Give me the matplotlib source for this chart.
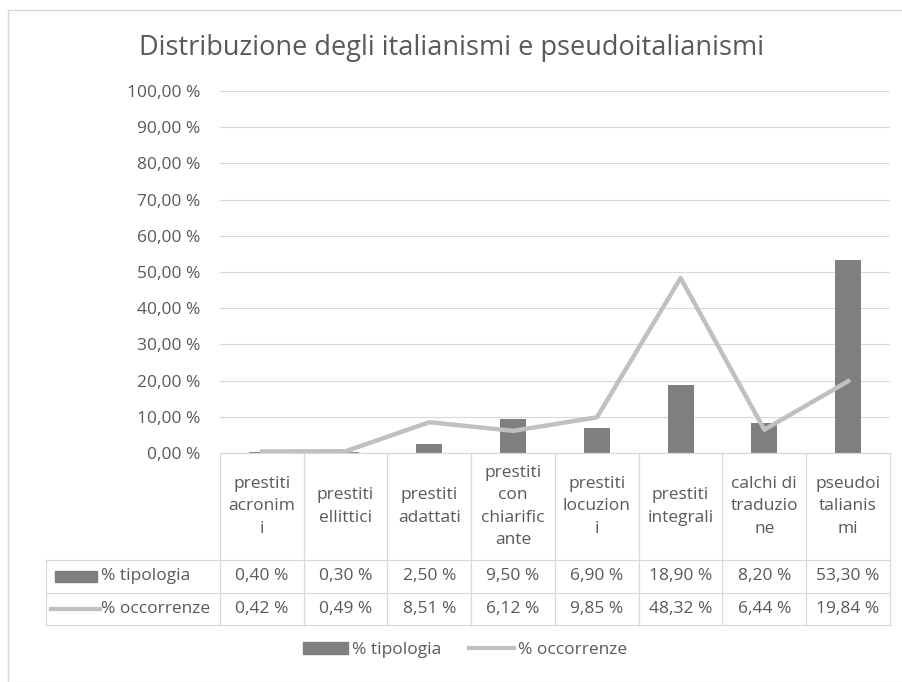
import matplotlib.pyplot as plt
from matplotlib.patches import Rectangle
from matplotlib.lines import Line2D

plt.rcParams['font.family'] = ['Open Sans', 'DejaVu Sans']

categories = ['prestiti\nacronim\ni', 'prestiti\nellittici', 'prestiti\nadattati',
              'prestiti\ncon\nchiarific\nante', 'prestiti\nlocuzion\ni', 'prestiti\nintegrali',
              'calchi di\ntraduzio\nne', 'pseudoi\ntalianis\nmi']
tipologia = [0.40, 0.30, 2.50, 9.50, 6.90, 18.90, 8.20, 53.30]
occorrenze = [0.42, 0.49, 8.51, 6.12, 9.85, 48.32, 6.44, 19.84]
yticks = list(range(0, 101, 10))

def pct(v):
    return f'{v:.2f} %'.replace('.', ',')

bar_col = '#7f7f7f'
line_col = '#c0c0c0'
txt_col = '#595959'
grid_col = '#d9d9d9'
fs = 12.5

fig = plt.figure(figsize=(9.03, 6.82), dpi=100)
ax = fig.add_axes([220 / 903, 1 - 453 / 682, 670 / 903, 362 / 682])

x = list(range(len(categories)))
ax.bar(x, tipologia, width=0.31, color=bar_col, zorder=2)
ax.plot(x, occorrenze, color=line_col, lw=3.2, zorder=3, solid_joinstyle='round')

ax.set_xlim(-0.5, len(categories) - 0.5)
ax.set_ylim(0, 100)
ax.set_yticks(yticks)
ax.set_yticklabels([pct(v) for v in yticks], fontsize=fs, color=txt_col)
ax.tick_params(axis='y', length=0, pad=14)
ax.set_xticks([])
ax.grid(axis='y', color=grid_col, lw=0.8)
ax.set_axisbelow(True)
for s in ax.spines.values():
    s.set_visible(False)

fig.text(0.5, 1 - 48 / 682, 'Distribuzione degli italianismi e pseudoitalianismi',
         ha='center', va='center', fontsize=19.5, color=txt_col)

# data table below the plot
px = len(categories) / 670          # data units per pixel
rows_y = [0, -107 / 362, -140 / 362, -172 / 362]
left = -0.5 - 174 * px
bt = ax.get_xaxis_transform()
lkw = dict(color=grid_col, lw=0.9, transform=bt, clip_on=False)
ax.add_line(Line2D([-0.5, 7.5], [0, 0], **lkw))
for ry in rows_y[1:]:
    ax.add_line(Line2D([left, 7.5], [ry, ry], **lkw))
for i in range(len(categories) + 1):
    ax.add_line(Line2D([i - 0.5, i - 0.5], [0, rows_y[-1]], **lkw))
ax.add_line(Line2D([left, left], [rows_y[1], rows_y[-1]], **lkw))

for i, c in enumerate(categories):
    ax.text(i, (rows_y[0] + rows_y[1]) / 2, c, transform=bt, ha='center', va='center',
            fontsize=fs, color=txt_col, linespacing=1.55)
    ax.text(i, (rows_y[1] + rows_y[2]) / 2, pct(tipologia[i]), transform=bt,
            ha='center', va='center', fontsize=fs, color=txt_col)
    ax.text(i, (rows_y[2] + rows_y[3]) / 2, pct(occorrenze[i]), transform=bt,
            ha='center', va='center', fontsize=fs, color=txt_col)

# row labels with legend keys
ym1 = (rows_y[1] + rows_y[2]) / 2
ym2 = (rows_y[2] + rows_y[3]) / 2
ax.add_patch(Rectangle((left + 9 * px, ym1 - 0.014), 42 * px, 0.028, color=bar_col,
                       transform=bt, clip_on=False))
ax.text(left + 55 * px, ym1, '% tipologia', transform=bt, ha='left', va='center',
        fontsize=fs, color=txt_col)
ax.add_line(Line2D([left + 5 * px, left + 54 * px], [ym2, ym2], color=line_col, lw=3,
                   transform=bt, clip_on=False))
ax.text(left + 55 * px, ym2, '% occorrenze', transform=bt, ha='left', va='center',
        fontsize=fs, color=txt_col)

# legend
handles = [Rectangle((0, 0), 1, 1, color=bar_col), Line2D([0], [0], color=line_col, lw=3)]
fig.legend(handles, ['% tipologia', '% occorrenze'], loc='center', ncol=2,
           bbox_to_anchor=(465 / 903, 1 - 650 / 682), frameon=False, fontsize=fs,
           labelcolor=txt_col, handlelength=2.6, handletextpad=0.2, columnspacing=1.6)

# chart frame
fig.patches.append(Rectangle((8 / 903, 0), 1, 1 - 10 / 682, fill=False, ec='#d9d9d9',
                             lw=1, transform=fig.transFigure))

fig.savefig('out.png', dpi=100)
